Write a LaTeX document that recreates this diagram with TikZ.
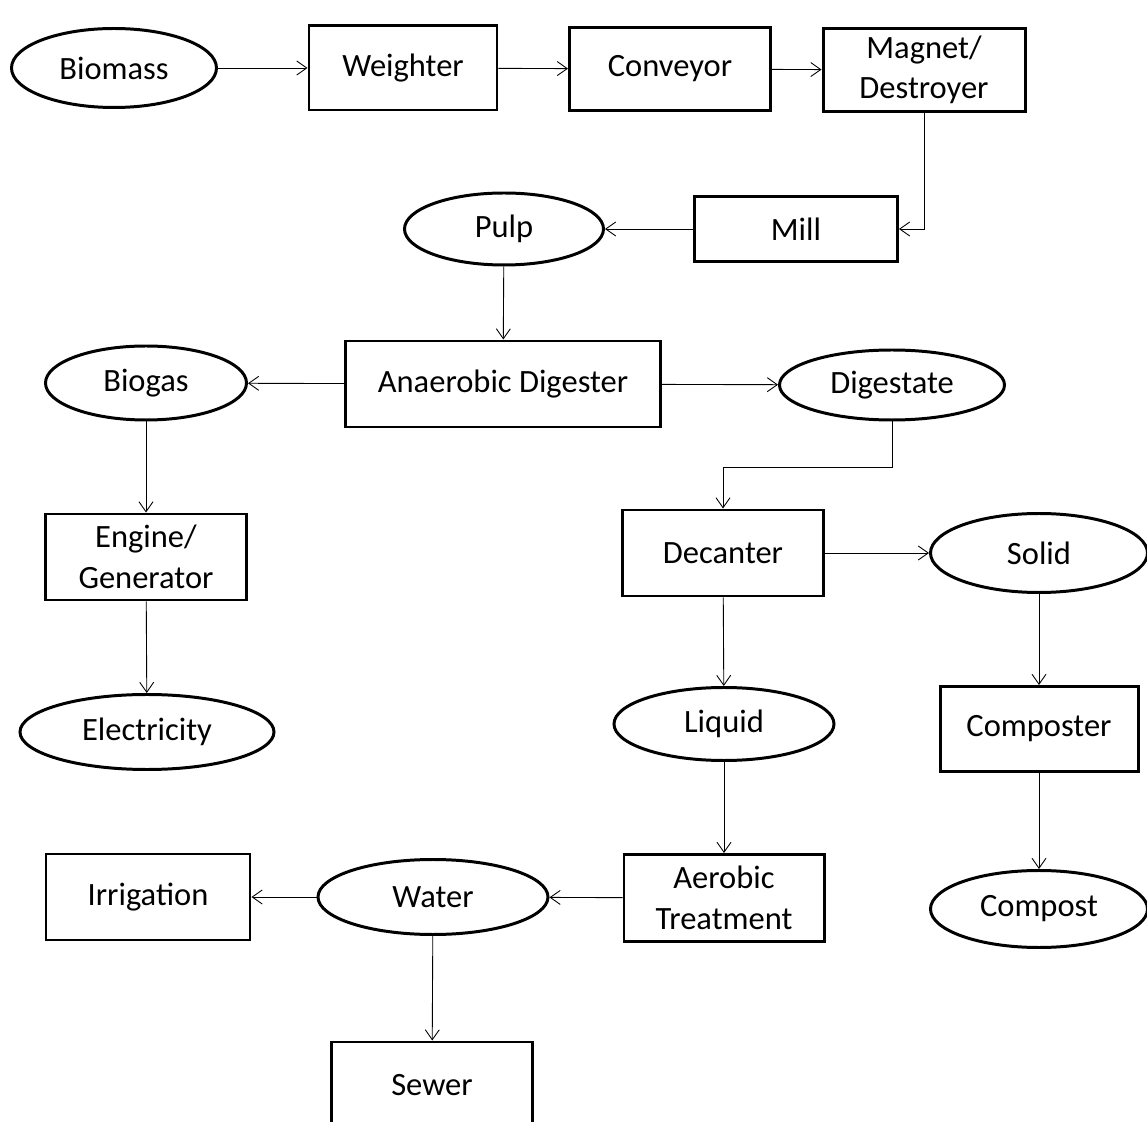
\documentclass[tikz,border=0pt]{standalone}
\usepackage{fontspec}
\setmainfont{Carlito}
\usetikzlibrary{shapes,arrows.meta,positioning}

\tikzset{
  box/.style={draw, rectangle, line width=1.7pt, minimum width=4.02cm, minimum height=1.72cm, inner sep=0pt, align=center},
  oval/.style={draw, ellipse, line width=1.7pt, minimum width=4.02cm, minimum height=1.5cm, inner sep=0pt},
  flow/.style={-{Straight Barb[length=2mm,width=2.8mm]}, line width=0.5pt},
}

\begin{document}
\begin{tikzpicture}[font=\fontsize{18.5}{23}\selectfont]
    \useasboundingbox (0,0) rectangle (22.94,-22.44);

    % Feed line
    \node[oval, minimum width=4.10cm, minimum height=1.58cm] (bio) at (2.28,-1.36) {Biomass};
    \node[box, minimum width=3.76cm, minimum height=1.68cm] (wei) at (8.06,-1.36) {Weighter};
    \node[box, minimum height=1.66cm] (con) at (13.40,-1.38) {Conveyor};
    \node[box, minimum width=4.04cm, minimum height=1.66cm] (mag) at (18.48,-1.40) {Magnet/\\Destroyer};
    \node[box, minimum width=4.06cm, minimum height=1.30cm] (mill) at (15.92,-4.58) {Mill};
    \node[oval, minimum width=3.98cm, minimum height=1.44cm] (pulp) at (10.08,-4.58) {Pulp};

    % Digester and products
    \node[box, minimum width=6.30cm] (dig) at (10.06,-7.68) {Anaerobic Digester};
    \node[oval, minimum height=1.48cm] (gas) at (2.92,-7.66) {Biogas};
    \node[oval, minimum width=4.50cm, minimum height=1.40cm] (dst) at (17.84,-7.70) {Digestate};
    \node[box] (eng) at (2.92,-11.14) {Engine/\\Generator};
    \node[oval, minimum width=5.08cm] (ele) at (2.94,-14.64) {Electricity};

    % Separation
    \node[box] (dec) at (14.46,-11.06) {Decanter};
    \node[oval, minimum width=4.34cm, minimum height=1.58cm] (sol) at (20.78,-11.06) {Solid};
    \node[oval, minimum width=4.40cm, minimum height=1.46cm] (liq) at (14.48,-14.48) {Liquid};
    \node[box, minimum width=3.96cm, minimum height=1.70cm] (cmp) at (20.78,-14.58) {Composter};
    \node[oval, minimum width=4.34cm, minimum height=1.54cm] (cpt) at (20.78,-18.18) {Compost};
    \node[box, minimum width=4.00cm, minimum height=1.74cm] (aer) at (14.48,-17.96) {Aerobic\\Treatment};
    \node[oval, minimum width=4.60cm] (wat) at (8.66,-17.94) {Water};
    \node[box, minimum width=4.08cm] (irr) at (2.96,-17.94) {Irrigation};
    \node[box] (sew) at (8.64,-21.70) {Sewer};

    \draw[flow] (bio) -- (wei);
    \draw[flow] (wei) -- (con);
    \draw[flow] (con) -- (mag);
    \draw[flow] (mag.south) |- (mill.east);
    \draw[flow] (mill) -- (pulp);
    \draw[flow] (pulp) -- (dig);
    \draw[flow] (dig) -- (gas);
    \draw[flow] (dig) -- (dst);
    \draw[flow] (gas) -- (eng);
    \draw[flow] (eng) -- (ele);
    \draw[flow] (dst.south) -- (dst.south |- 0,-9.34) -| (dec.north);
    \draw[flow] (dec) -- (sol);
    \draw[flow] (dec) -- (liq);
    \draw[flow] (sol) -- (cmp);
    \draw[flow] (cmp) -- (cpt);
    \draw[flow] (liq) -- (aer);
    \draw[flow] (aer) -- (wat);
    \draw[flow] (wat) -- (irr);
    \draw[flow] (wat) -- (sew);
\end{tikzpicture}
\end{document}
